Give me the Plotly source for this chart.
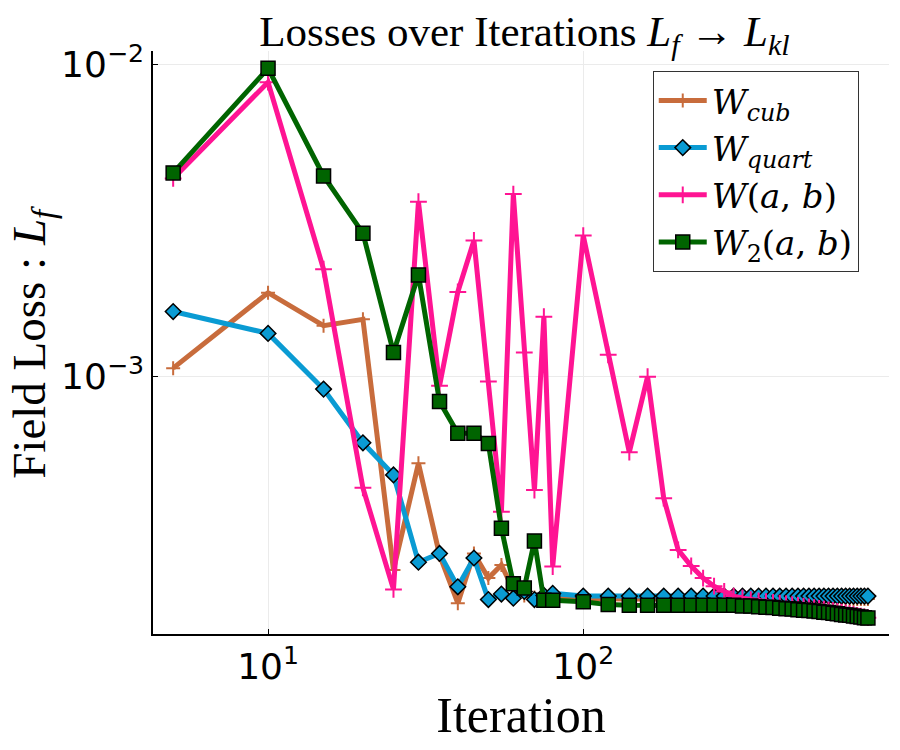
import plotly.graph_objects as go

iterations = [5, 10, 15, 20, 25, 30, 35, 40, 45, 50, 55, 60, 65, 70, 75, 80,
              100, 120, 140, 160, 180, 200, 220, 240, 260, 280, 300, 320, 340, 360,
              380, 400, 420, 440, 460, 480, 500, 520, 540, 560, 580, 600, 620, 640,
              660, 680, 700, 720, 740, 760, 780, 800]

w_cub = [1.06e-3, 1.85e-3, 1.45e-3, 1.52e-3, 2.39e-4, 5.25e-4, 2.67e-4, 1.87e-4,
         2.70e-4, 2.25e-4, 2.48e-4, 2.06e-4, 1.98e-4, 1.95e-4, 1.94e-4, 1.94e-4,
         1.93e-4, 1.93e-4, 1.93e-4, 1.93e-4, 1.93e-4, 1.93e-4, 1.93e-4, 1.93e-4,
         1.93e-4, 1.93e-4, 1.93e-4, 1.93e-4, 1.93e-4, 1.93e-4, 1.93e-4, 1.93e-4,
         1.93e-4, 1.93e-4, 1.93e-4, 1.93e-4, 1.93e-4, 1.93e-4, 1.93e-4, 1.93e-4,
         1.93e-4, 1.93e-4, 1.93e-4, 1.93e-4, 1.93e-4, 1.93e-4, 1.93e-4, 1.93e-4,
         1.93e-4, 1.93e-4, 1.93e-4, 1.93e-4]

w_quart = [1.61e-3, 1.37e-3, 9.08e-4, 6.11e-4, 4.82e-4, 2.53e-4, 2.70e-4, 2.11e-4,
           2.61e-4, 1.92e-4, 2.00e-4, 1.94e-4, 2.04e-4, 1.92e-4, 1.98e-4, 2.01e-4,
           1.97e-4, 1.97e-4, 1.97e-4, 1.97e-4, 1.97e-4, 1.97e-4, 1.97e-4, 1.97e-4,
           1.97e-4, 1.97e-4, 1.97e-4, 1.97e-4, 1.97e-4, 1.97e-4, 1.97e-4, 1.97e-4,
           1.97e-4, 1.97e-4, 1.97e-4, 1.97e-4, 1.97e-4, 1.97e-4, 1.97e-4, 1.97e-4,
           1.97e-4, 1.97e-4, 1.97e-4, 1.97e-4, 1.97e-4, 1.97e-4, 1.97e-4, 1.97e-4,
           1.97e-4, 1.97e-4, 1.97e-4, 1.97e-4]

w_ab = [4.30e-3, 8.75e-3, 2.20e-3, 4.38e-4, 2.07e-4, 3.62e-3, 9.30e-4, 1.86e-3,
        2.72e-3, 9.60e-4, 3.67e-4, 3.83e-3, 1.19e-3, 4.31e-4, 1.55e-3, 2.45e-4,
        2.82e-3, 1.17e-3, 5.70e-4, 9.95e-4, 4.06e-4, 2.77e-4, 2.46e-4, 2.25e-4,
        2.12e-4, 2.04e-4, 1.97e-4, 1.94e-4, 1.92e-4, 1.90e-4, 1.89e-4, 1.88e-4,
        1.87e-4, 1.86e-4, 1.85e-4, 1.84e-4, 1.83e-4, 1.82e-4, 1.81e-4, 1.80e-4,
        1.79e-4, 1.78e-4, 1.77e-4, 1.76e-4, 1.75e-4, 1.74e-4, 1.73e-4, 1.72e-4,
        1.71e-4, 1.70e-4, 1.69e-4, 1.68e-4]

w2_ab = [4.48e-3, 9.69e-3, 4.38e-3, 2.87e-3, 1.19e-3, 2.11e-3, 8.28e-4, 6.55e-4,
         6.55e-4, 6.08e-4, 3.25e-4, 2.16e-4, 2.09e-4, 2.96e-4, 1.91e-4, 1.91e-4,
         1.89e-4, 1.85e-4, 1.84e-4, 1.84e-4, 1.84e-4, 1.84e-4, 1.84e-4, 1.84e-4,
         1.84e-4, 1.84e-4, 1.84e-4, 1.83e-4, 1.83e-4, 1.82e-4, 1.815e-4, 1.81e-4,
         1.80e-4, 1.795e-4, 1.79e-4, 1.78e-4, 1.775e-4, 1.77e-4, 1.765e-4, 1.76e-4,
         1.75e-4, 1.745e-4, 1.735e-4, 1.73e-4, 1.72e-4, 1.715e-4, 1.71e-4, 1.70e-4,
         1.695e-4, 1.69e-4, 1.68e-4, 1.675e-4]

x_tick_vals = [10, 100]
x_tick_text = ["10<sup>1</sup>", "10<sup>2</sup>"]
y_tick_vals = [1e-2, 1e-3]
y_tick_text = ["10<sup>\u22122</sup>", "10<sup>\u22123</sup>"]

serif = "Liberation Serif"

fig = go.Figure()
fig.add_trace(go.Scatter(
    x=iterations, y=w_cub, mode="lines+markers",
    name="<i>W</i><sub><i>cub</i></sub>",
    line=dict(color="#C86C3C", width=5),
    marker=dict(symbol="cross-thin", size=10, line=dict(color="#C86C3C", width=2)),
))
fig.add_trace(go.Scatter(
    x=iterations, y=w_quart, mode="lines+markers",
    name="<i>W</i><sub><i>quart</i></sub>",
    line=dict(color="#0A9BD3", width=5),
    marker=dict(symbol="diamond", size=12, color="#0A9BD3", line=dict(color="black", width=1.5)),
))
fig.add_trace(go.Scatter(
    x=iterations, y=w_ab, mode="lines+markers",
    name="<i>W</i>(<i>a</i>, <i>b</i>)",
    line=dict(color="#FF1493", width=5),
    marker=dict(symbol="cross-thin", size=12, line=dict(color="#FF1493", width=2)),
))
fig.add_trace(go.Scatter(
    x=iterations, y=w2_ab, mode="lines+markers",
    name="<i>W</i><sub>2</sub>(<i>a</i>, <i>b</i>)",
    line=dict(color="#006400", width=5),
    marker=dict(symbol="square", size=14, color="#006400", line=dict(color="black", width=1.5)),
))

# the page puts the figure 8px in from the top-left corner
fig.update_layout(
    width=892, height=742,
    margin=dict(l=145, r=11, t=43, b=116),
    plot_bgcolor="white", paper_bgcolor="white",
    title=dict(
        text="Losses over Iterations <i>L</i><sub><i>f</i></sub> \u2192 <i>L</i><sub><i>kl</i></sub>",
        x=0.579, xanchor="center", y=0.99, yanchor="top",
        font=dict(family=serif, size=43, color="black"),
    ),
    legend=dict(
        x=0.679, y=0.966, xanchor="left", yanchor="top",
        bgcolor="white", bordercolor="#333333", borderwidth=1,
        font=dict(family="DejaVu Serif", size=34, color="black"),
        tracegroupgap=0, itemwidth=48,
    ),
    font=dict(family="DejaVu Sans", color="black"),
    annotations=[dict(
        text="Field Loss : <i>L</i><sub><i>f</i></sub>",
        xref="paper", yref="paper", x=-0.164, y=0.5,
        xanchor="center", yanchor="middle", textangle=-90, showarrow=False,
        font=dict(family=serif, size=47, color="black"),
    )],
)
fig.update_xaxes(
    type="log", range=[0.635, 2.97], tickvals=x_tick_vals, ticktext=x_tick_text,
    showline=True, linecolor="black", linewidth=1.5, mirror=False,
    ticks="inside", ticklen=5, tickcolor="black", automargin=False,
    showgrid=True, gridcolor="#EBEBEB", gridwidth=1, zeroline=False,
    tickfont=dict(family="DejaVu Sans", size=36, color="black"),
    title=dict(text="Iteration", font=dict(family=serif, size=50, color="black"), standoff=4),
)
fig.update_yaxes(
    type="log", range=[-3.827, -1.958], tickvals=y_tick_vals, ticktext=y_tick_text,
    showline=True, linecolor="black", linewidth=1.5, mirror=False,
    ticks="inside", ticklen=5, tickcolor="black", automargin=False,
    showgrid=True, gridcolor="#EBEBEB", gridwidth=1, zeroline=False,
    tickfont=dict(family="DejaVu Sans", size=36, color="black"),
)

fig.write_html("out.html")
